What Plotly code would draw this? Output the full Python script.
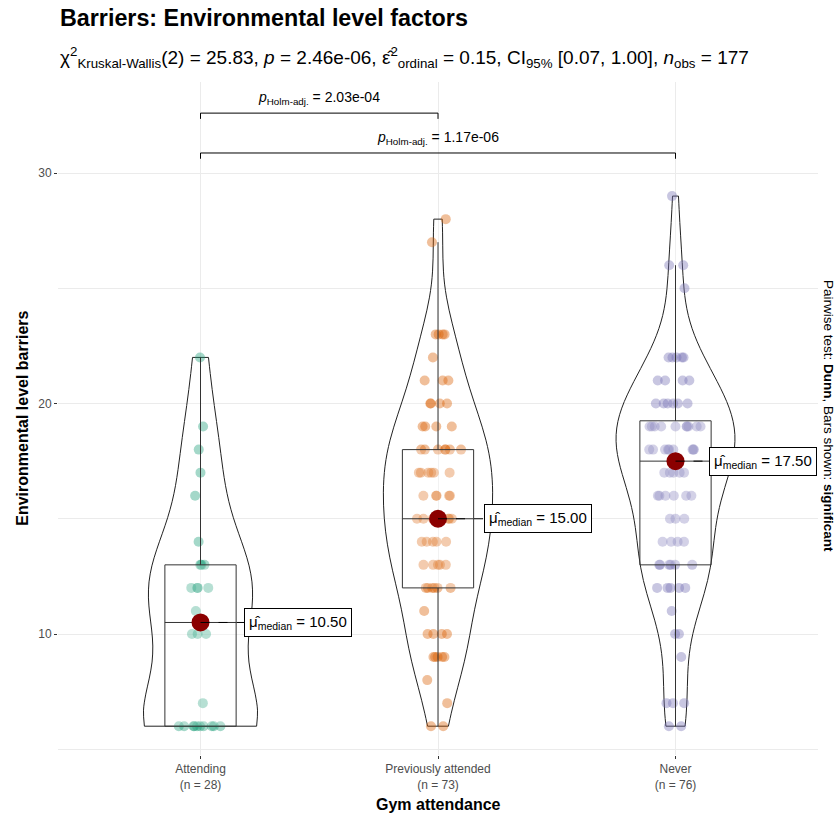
import numpy as np
import plotly.graph_objects as go

# ---------------- data ----------------
categories = ["Attending", "Previously attended", "Never"]
tick_labels = ["Attending<br>(n = 28)", "Previously attended<br>(n = 73)", "Never<br>(n = 76)"]

attending = [6, 6, 6, 6, 6, 6, 6, 6, 6, 6, 7, 10, 10, 10, 11, 12, 12, 12, 12,
             13, 13, 13, 14, 16, 17, 18, 19, 22]
previously = [6, 6, 7, 8, 9, 9, 9, 9, 9, 10, 10, 10, 10, 11,
              12, 12, 12, 12, 12, 12, 13, 13, 13, 13, 13, 14, 14, 14, 14, 14,
              15, 15, 15, 15, 15, 15, 15, 16, 16, 16, 16, 16,
              17, 17, 17, 17, 17, 17, 18, 18, 18, 18, 18, 18, 18,
              19, 19, 19, 19, 20, 20, 20, 20, 21, 21, 21, 22, 23, 23, 23, 23, 27, 28]
never = [6, 6, 7, 7, 7, 9, 10, 10, 11, 12, 12, 12, 12, 12,
         13, 13, 13, 13, 13, 13, 14, 14, 14, 14, 15, 15, 15,
         16, 16, 16, 16, 16, 16, 17, 17, 17, 17, 17,
         18, 18, 18, 18, 18, 18, 18, 18, 18,
         19, 19, 19, 19, 19, 19, 19, 19, 19, 19,
         20, 20, 20, 20, 20, 20, 21, 21, 21, 21, 22, 22, 22, 22, 22, 25, 26, 26, 29]
group_values = [attending, previously, never]

pairs = [("Attending", "Previously attended"), ("Attending", "Never")]
pair_p_labels = ["2.03e-04", "1.17e-06"]

title_text = "Barriers: Environmental level factors"
subtitle_text = ("χ<sup>2</sup><sub>Kruskal-Wallis</sub>(2) = 25.83, <i>p</i> = 2.46e-06, "
                 "ε̂<sup>2</sup><sub>ordinal</sub> = 0.15, CI<sub>95%</sub> [0.07, 1.00], "
                 "<i>n</i><sub>obs</sub> = 177")
caption_text = "Pairwise test: <b>Dunn</b>, Bars shown: <b>significant</b>"
x_title = "Gym attendance"
y_title = "Environmental level barriers"

# ---------------- style ----------------
colors = ["#1B9E77", "#D95F02", "#7570B3"]
FONT = "Liberation Sans, Arial, sans-serif"
bracket_levels = [32.6, 30.87]
label_offsets = [0.185, 0.195, 0.14]
violin_widths = [0.48, 0.46, 0.5]

fig = go.Figure()
medians = []
for i, (cat, vals, col) in enumerate(zip(categories, group_values, colors)):
    arr = np.array(vals, dtype=float)
    q1, med, q3 = np.percentile(arr, [25, 50, 75])
    iqr = q3 - q1
    sd = arr.std(ddof=1)
    bw = 0.9 * min(sd, iqr / 1.34) * len(arr) ** (-0.2)
    medians.append(med)
    fig.add_trace(go.Violin(
        x=[cat] * len(arr), y=arr, width=violin_widths[i], scalemode="width", spanmode="hard",
        bandwidth=bw, line=dict(color="#222222", width=1),
        fillcolor="rgba(255,255,255,0.2)", points="all", pointpos=0, jitter=0.45,
        marker=dict(color=col, opacity=0.4, size=10, line=dict(width=0)),
        showlegend=False, hoverinfo="y"))
    lo = arr[arr >= q1 - 1.5 * iqr].min()
    hi = arr[arr <= q3 + 1.5 * iqr].max()
    fig.add_trace(go.Box(
        x=[cat], q1=[q1], median=[med], q3=[q3], lowerfence=[lo], upperfence=[hi],
        width=0.3, whiskerwidth=0, line=dict(color="#333333", width=1),
        fillcolor="rgba(255,255,255,0.2)", boxpoints=False, showlegend=False))

fig.add_trace(go.Scatter(x=categories, y=medians, mode="markers",
                         marker=dict(color="#8B0000", size=18), showlegend=False))

annotations = []
shapes = []
for i, med in enumerate(medians):
    xo = i + label_offsets[i]
    shapes.append(dict(type="line", xref="x", yref="y", x0=i, x1=xo, y0=med, y1=med,
                       line=dict(color="black", width=1, dash="dash"), layer="above"))
    annotations.append(dict(
        x=xo, y=med, xref="x", yref="y", xanchor="left", yanchor="middle",
        text=f"μ̂<sub>median</sub> = {med:.2f}", showarrow=False,
        font=dict(family=FONT, size=15, color="black"),
        bgcolor="white", bordercolor="black", borderwidth=1, borderpad=4))

for (a, b), yb, plab in zip(pairs, bracket_levels, pair_p_labels):
    fig.add_trace(go.Scatter(x=[a, a, b, b], y=[yb - 0.25, yb, yb, yb - 0.25],
                             mode="lines", line=dict(color="black", width=1),
                             showlegend=False, hoverinfo="skip"))
    ia, ib = categories.index(a), categories.index(b)
    annotations.append(dict(
        x=(ia + ib) / 2, y=yb, xref="x", yref="y", yanchor="bottom", yshift=4,
        text=f"<i>p</i><sub>Holm-adj.</sub> = {plab}", showarrow=False,
        font=dict(family=FONT, size=14, color="black")))

annotations += [
    dict(x=0, y=1.095, xref="paper", yref="paper", xanchor="left", yanchor="middle",
         text=f"<b>{title_text}</b>", showarrow=False,
         font=dict(family=FONT, size=23.3, color="black")),
    dict(x=0, y=1.037, xref="paper", yref="paper", xanchor="left", yanchor="middle",
         text=subtitle_text, showarrow=False,
         font=dict(family=FONT, size=19, color="black")),
    dict(x=1.013, y=0.504, xref="paper", yref="paper", xanchor="center", yanchor="middle",
         text=caption_text, textangle=90, showarrow=False,
         font=dict(family=FONT, size=13.5, color="black")),
    dict(x=0.5, y=-0.074, xref="paper", yref="paper", xanchor="center", yanchor="middle",
         text=f"<b>{x_title}</b>", showarrow=False,
         font=dict(family=FONT, size=16, color="black")),
    dict(x=-0.047, y=0.5, xref="paper", yref="paper", xanchor="center", yanchor="middle",
         text=f"<b>{y_title}</b>", textangle=-90, showarrow=False,
         font=dict(family=FONT, size=16, color="black")),
]

fig.update_layout(
    width=836, height=818, margin=dict(l=58, r=18, t=82, b=63),
    paper_bgcolor="white", plot_bgcolor="white",
    violinmode="overlay", boxmode="overlay",
    annotations=annotations, shapes=shapes,
    font=dict(family=FONT),
    xaxis=dict(type="category", categoryorder="array", categoryarray=categories,
               tickvals=categories, ticktext=tick_labels, range=[-0.6, 2.6],
               showgrid=True, gridcolor="#EBEBEB", gridwidth=1, zeroline=False,
               ticks="outside", ticklen=3, tickcolor="#333333",
               tickfont=dict(family=FONT, size=12, color="#4D4D4D"), showline=False),
    yaxis=dict(range=[4.75, 33.95], tick0=0, dtick=10, showgrid=True, gridcolor="#EBEBEB",
               gridwidth=1, zeroline=False, ticks="outside", ticklen=3, tickcolor="#333333",
               tickfont=dict(family=FONT, size=12, color="#4D4D4D"), showline=False,
               minor=dict(dtick=5, tick0=0, showgrid=True, gridcolor="#EBEBEB", gridwidth=0.7)),
)

fig.write_html("out.html")
